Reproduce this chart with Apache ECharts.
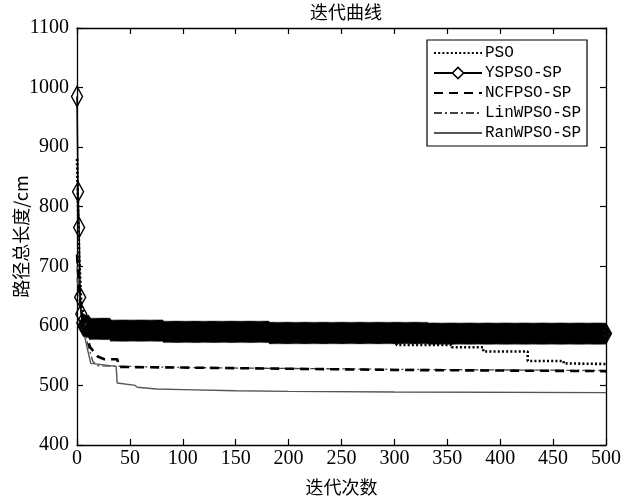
<!DOCTYPE html>
<html>
<head>
<meta charset="utf-8">
<script src="https://cdn.jsdelivr.net/npm/echarts@6/dist/echarts.min.js"></script>
<style>
html,body{margin:0;padding:0;background:#fff;}
#main{width:633px;height:501px;}
</style>
</head>
<body>
<div id="main"></div>
<script>
// ---- data ----
var titleText = '迭代曲线';
var xName = '迭代次数';
var yName = '路径总长度/cm';
var seriesNames = ['PSO', 'YSPSO-SP', 'NCFPSO-SP', 'LinWPSO-SP', 'RanWPSO-SP'];
var xTicks = {min: 0, max: 500, interval: 50};
var yTicks = {min: 400, max: 1100, interval: 100};

// [iteration, path length]
var psoData = [[0,880],[2,720],[4,640],[8,600],[15,592],[100,590],[302,590],[302,568],[354,568],[354,564],[384,564],[384,557],[426,557],[426,541],[460,541],[460,537],[500,536]];
// run-length encoded per-iteration values: [value, number of iterations]
var yspsoRuns = [[985,1],[825,1],[765,1],[648,1],[620,1],[605,1],[600,6],[595,20],[592,50],[590,100],[588,150],[587,169]];
var ncfpsoData = [[0,720],[3,640],[8,600],[12,565],[20,548],[26,544],[38,544],[40,531],[100,530],[200,528],[300,526],[500,524]];
var linwpsoData = [[0,680],[5,610],[10,570],[15,540],[20,533],[100,530],[300,527],[500,525]];
var ranwpsoData = [[0,700],[5,600],[10,560],[13,537],[37,532],[38,504],[55,500],[57,497],[75,494],[100,493],[150,491],[200,490],[300,489],[500,488]];

// decode run-length values
var yspsoData = [];
(function(){ var it = 0; yspsoRuns.forEach(function(r){ for (var k = 0; k < r[1]; k++) { yspsoData.push([it, r[0]]); it++; } }); })();

var serifFont = '"Liberation Serif", "DejaVu Serif", serif';
var cjkFont = '"Noto Sans CJK SC", sans-serif';

var chart = echarts.init(document.getElementById('main'), null, {renderer: 'canvas'});

function axisBase(extra) {
  return Object.assign({
    type: 'value',
    axisLine: {show: true, onZero: false, lineStyle: {color: '#000', width: 1.3}},
    axisTick: {show: true, inside: true, length: 6, lineStyle: {color: '#000', width: 1.2}},
    splitLine: {show: false},
    axisLabel: {show: false}
  }, extra);
}
function plain(v) { return String(v); }

var noSymbol = {opacity: 0};

var option = {
  animation: false,
  backgroundColor: '#fff',
  title: {
    text: titleText, left: 341, top: -2, textAlign: 'center',
    textStyle: {fontFamily: cjkFont, fontSize: 18, fontWeight: 'normal', color: '#000'}
  },
  legend: {
    orient: 'vertical', left: 427, top: 40, width: 158,
    backgroundColor: '#fff', borderColor: '#000', borderWidth: 1.2,
    padding: [5, 6, 5, 6], itemGap: 4, itemWidth: 48, itemHeight: 14,
    textStyle: {fontFamily: '"Liberation Mono", monospace', fontSize: 16, color: '#000', padding: [0,0,0,-2]},
    data: [
      {name: seriesNames[0], itemStyle: noSymbol},
      {name: seriesNames[1], itemStyle: {color: '#fff', borderColor: '#000', borderWidth: 1.5}},
      {name: seriesNames[2], itemStyle: noSymbol},
      {name: seriesNames[3], itemStyle: noSymbol},
      {name: seriesNames[4], itemStyle: noSymbol}
    ]
  },
  grid: {left: 77, right: 27, top: 28, bottom: 56, containLabel: false, outerBoundsMode: 'none'},
  xAxis: [
    axisBase({
      position: 'bottom', min: xTicks.min, max: xTicks.max, interval: xTicks.interval,
      name: xName, nameLocation: 'middle', nameGap: 33, nameMoveOverlap: false,
      nameTextStyle: {fontFamily: cjkFont, fontSize: 18, color: '#000'},
      axisLabel: {show: true, fontFamily: serifFont, fontSize: 20, color: '#000', margin: 4, formatter: plain}
    }),
    axisBase({position: 'top', min: xTicks.min, max: xTicks.max, interval: xTicks.interval})
  ],
  yAxis: [
    axisBase({
      position: 'left', min: yTicks.min, max: yTicks.max, interval: yTicks.interval,
      name: yName, nameLocation: 'middle', nameGap: 47, nameMoveOverlap: false,
      nameTextStyle: {fontFamily: cjkFont, fontSize: 18, color: '#000'},
      axisLabel: {show: true, fontFamily: serifFont, fontSize: 20, color: '#000', margin: 8, formatter: plain}
    }),
    axisBase({position: 'right', min: yTicks.min, max: yTicks.max, interval: yTicks.interval})
  ],
  series: [
    {
      name: seriesNames[0], type: 'line', data: psoData, symbol: 'none', z: 3,
      lineStyle: {color: '#000', width: 2.6, type: [2, 2.2]},
      itemStyle: {color: '#000'}
    },
    {
      name: seriesNames[1], type: 'line', data: yspsoData, z: 4,
      symbol: 'diamond', symbolSize: [11, 20], showAllSymbol: true,
      lineStyle: {color: '#000', width: 1.5},
      itemStyle: {color: 'rgba(255,255,255,0)', borderColor: '#000', borderWidth: 1.5}
    },
    {
      name: seriesNames[2], type: 'line', data: ncfpsoData, symbol: 'none', z: 3,
      lineStyle: {color: '#000', width: 2.6, type: [9, 6]},
      itemStyle: {color: '#000'}
    },
    {
      name: seriesNames[3], type: 'line', data: linwpsoData, symbol: 'none', z: 2,
      lineStyle: {color: '#444', width: 1.3, type: [8, 3, 2, 3]},
      itemStyle: {color: '#444'}
    },
    {
      name: seriesNames[4], type: 'line', data: ranwpsoData, symbol: 'none', z: 2,
      lineStyle: {color: '#555', width: 1.4},
      itemStyle: {color: '#555'}
    }
  ]
};
chart.setOption(option);
</script>
</body>
</html>
